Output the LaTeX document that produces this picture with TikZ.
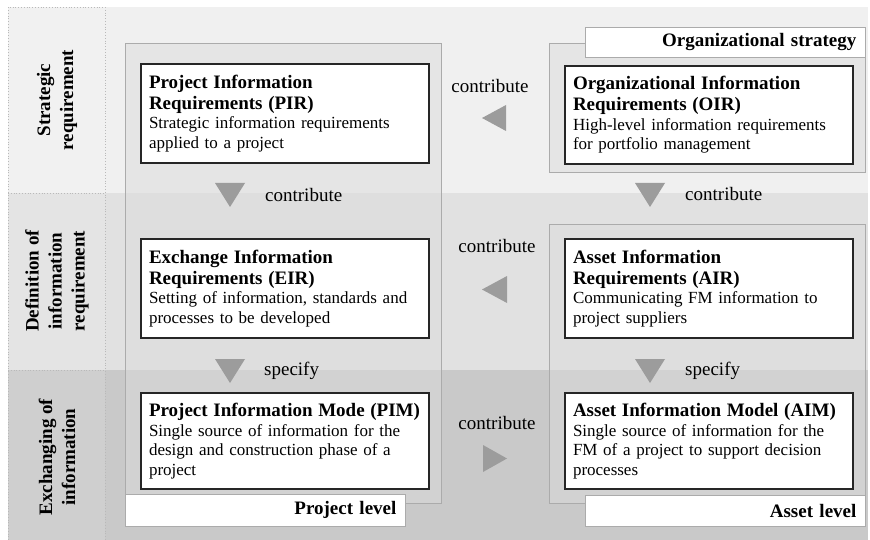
\documentclass[tikz,border=0pt]{standalone}
\usepackage{fontspec}
\setmainfont{Liberation Serif}
\usetikzlibrary{calc}
\definecolor{rowA}{HTML}{F0F0F0}
\definecolor{rowB}{HTML}{E1E1E1}
\definecolor{rowC}{HTML}{C9C9C9}
\definecolor{contfill}{HTML}{DCDCDC}
\definecolor{trifill}{HTML}{9C9C9C}
\definecolor{contline}{HTML}{ABABAB}
\newcommand{\boxtext}[2]{{\fontsize{19}{21}\selectfont\bfseries #1\par}#2}
\begin{document}
\begin{tikzpicture}[x=1pt,y=-1pt,
  cont/.style={draw=contline, fill=contfill, fill opacity=0.5, draw opacity=1, line width=0.8pt, inner sep=0pt, anchor=north west},
  lvl/.style={draw=contline, fill=white, line width=0.8pt, anchor=north west, inner xsep=9pt, inner ysep=0pt, text width=262pt, align=right, minimum height=31pt, font=\fontsize{19}{21}\selectfont\bfseries},
  ibox/.style={draw=black!85, line width=2pt, fill=white, anchor=north west, text width=272pt, inner xsep=8pt, inner ysep=3pt, align=left, font=\fontsize{17}{19.5}\selectfont},
  lab/.style={inner sep=0pt, font=\fontsize{19}{21}\selectfont},
  rowlab/.style={inner sep=0pt, rotate=90, align=center, font=\fontsize{19}{23}\selectfont\bfseries},
  tri/.style={fill=trifill}]
\useasboundingbox (0,0) rectangle (870,540);
% background bands
\fill[rowA] (8,7) rectangle (868,193);
\fill[rowB] (8,193) rectangle (868,370);
\fill[rowC] (8,370) rectangle (868,540);
\fill[white, opacity=0.12] (8,7) rectangle (105,540);
\draw[gray!55, dotted, line width=0.8pt] (8,540) -- (8,7) -- (105,7) -- (105,540);
\draw[gray!55, dotted, line width=0.8pt] (8,193) -- (105,193);
\draw[gray!55, dotted, line width=0.8pt] (8,370) -- (105,370);
% row labels
\node[rowlab] (r1) at (57,100) {Strategic\\requirement};
\node[rowlab] (r2) at (57,281) {Definition of\\information\\requirement};
\node[rowlab] (r3) at (57,457) {Exchanging of\\information};
% containers
\node[cont, minimum width=316pt, minimum height=460pt] (projc) at (125,43) {};
\node[cont, minimum width=316pt, minimum height=129pt] (orgc) at (549,43) {};
\node[cont, minimum width=316pt, minimum height=279pt] (assetc) at (549,224) {};
% level labels
\node[lvl, minimum height=30pt] (orgl) at (585,27) {Organizational strategy};
\node[lvl, minimum height=32pt] (projl) at (125,494) {Project level};
\node[lvl] (assetl) at (585,495) {Asset level};
% boxes
\node[ibox, minimum height=99pt] (PIR) at (140,63) {\boxtext{Project Information\\Requirements (PIR)}{Strategic information requirements\\applied to a project}};
\node[ibox, minimum height=98pt] (OIR) at (564,65) {\boxtext{Organizational Information\\Requirements (OIR)}{High-level information requirements\\for portfolio management}};
\node[ibox, minimum height=99pt] (EIR) at (140,238) {\boxtext{Exchange Information\\Requirements (EIR)}{Setting of information, standards and\\processes to be developed}};
\node[ibox, minimum height=99pt] (AIR) at (564,238) {\boxtext{Asset Information\\Requirements (AIR)}{Communicating FM information to\\project suppliers}};
\node[ibox, minimum height=96pt] (PIM) at (140,392) {\boxtext{\mbox{Project Information Mode (PIM)}}{Single source of information for the\\design and construction phase of a\\project}};
\node[ibox, minimum height=96pt] (AIM) at (564,392) {\boxtext{\mbox{Asset Information Model (AIM)}}{Single source of information for the\\FM of a project to support decision\\processes}};
% triangles (arrows)
\fill[tri] (215,183) -- (245,183) -- (230,207) -- cycle;
\fill[tri] (635,183) -- (665,183) -- (650,207) -- cycle;
\fill[tri] (215,359) -- (245,359) -- (230,383) -- cycle;
\fill[tri] (635,359) -- (665,359) -- (650,383) -- cycle;
\fill[tri] (506,105) -- (506,131) -- (482,118) -- cycle;
\fill[tri] (507,276) -- (507,303) -- (482,289.5) -- cycle;
\fill[tri] (483,445) -- (483,472) -- (507,458.5) -- cycle;
% labels
\node[lab, anchor=west] (c1) at (265,195) {contribute};
\node[lab, anchor=west] (c2) at (685,194) {contribute};
\node[lab] (c3) at (490,86) {contribute};
\node[lab] (c4) at (497,246) {contribute};
\node[lab] (c5) at (497,423) {contribute};
\node[lab, anchor=west] (s1) at (264,371) {specify};
\node[lab, anchor=west] (s2) at (685,371) {specify};
\end{tikzpicture}
\end{document}
